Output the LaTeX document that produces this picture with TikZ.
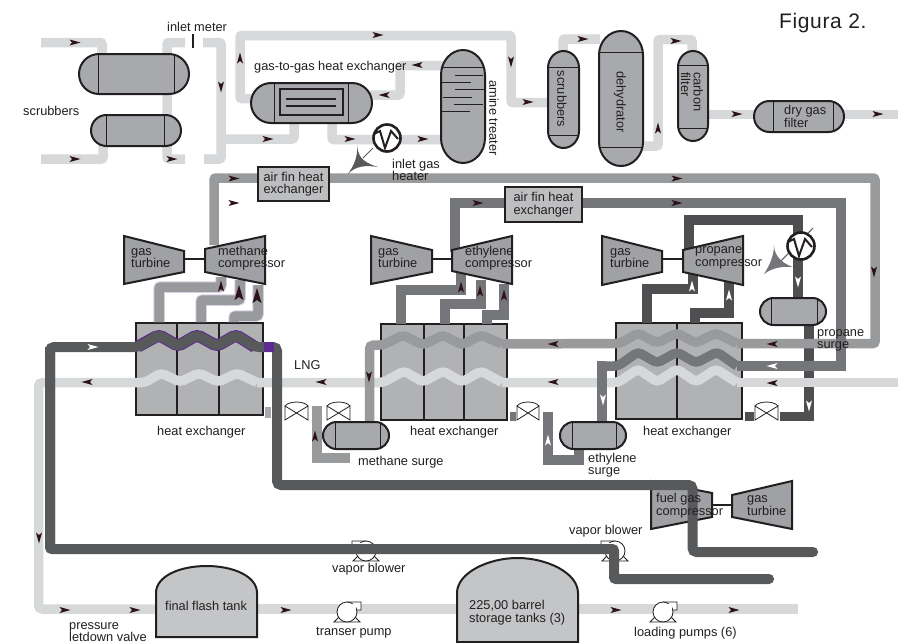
\documentclass[tikz,border=0pt]{standalone}
\usepackage{fontspec}
\setmainfont{Liberation Sans}
\definecolor{ink}{HTML}{231F20}
\definecolor{arrowink}{HTML}{2B1118}
\definecolor{plt}{HTML}{D7D8D9}
\definecolor{pmd}{HTML}{999A9C}
\definecolor{pet}{HTML}{757679}
\definecolor{ppr}{HTML}{4F4F51}
\definecolor{pdk}{HTML}{58595B}
\definecolor{halo}{HTML}{D8D0E4}
\definecolor{purp}{HTML}{5E2A91}
\definecolor{vesselgray}{HTML}{A7A9AC}
\definecolor{hxgray}{HTML}{B1B2B4}
\definecolor{fingray}{HTML}{BCBEC0}
\definecolor{tankgray}{HTML}{C4C5C7}
\definecolor{turbgray}{HTML}{9FA1A4}
\tikzset{
  pipeline/.style={line width=9.5pt,rounded corners=2pt,line cap=butt},
  lightpipe/.style={pipeline,draw=plt},
  midpipe/.style={pipeline,draw=pmd},
  ethpipe/.style={pipeline,draw=pet},
  proppipe/.style={pipeline,draw=ppr,rounded corners=0pt},
  darkpipe/.style={pipeline,draw=pdk,line width=10pt},
  wavy/.style={rounded corners=4pt},
  vessel/.style={draw=ink,line width=2pt,fill=vesselgray},
  divider/.style={draw=ink,line width=1pt},
  hxbox/.style={draw=ink,line width=2pt,fill=hxgray},
  finbox/.style={draw=ink,line width=2pt,fill=fingray,minimum width=71pt,inner sep=0pt,font=\fontsize{12.8}{12.5}\selectfont,align=left,text=ink},
  tank/.style={draw=ink,line width=2pt,fill=tankgray},
  machine/.style={draw=ink,line width=2pt,fill=turbgray},
  lbl/.style={inner sep=0pt,anchor=west,text=ink,font=\fontsize{12.8}{12.5}\selectfont,align=left},
  thin part/.style={draw=ink,line width=.8pt,fill=white},
}
\newcommand{\capH}[6]{% x0 y0 x1 y1 line1 line2
  \pgfmathsetmacro{\rr}{(#4-#2)/2-0.01}
  \draw[vessel,rounded corners=\rr pt] (#1,#2) rectangle (#3,#4);
  \draw[divider] (#5,#2) -- (#5,#4) (#6,#2) -- (#6,#4);
}
\newcommand{\capV}[5]{% x0 y0 x1 y1 capheight
  \pgfmathsetmacro{\xm}{(#1+#3)/2}
  \pgfmathsetmacro{\xa}{#1+(#3-#1)*.225}
  \pgfmathsetmacro{\xb}{#3-(#3-#1)*.225}
  \pgfmathsetmacro{\ya}{#2+#5}
  \pgfmathsetmacro{\yb}{#4-#5}
  \pgfmathsetmacro{\yc}{#2+#5*.45}
  \pgfmathsetmacro{\yd}{#4-#5*.45}
  \draw[vessel] (#1,\ya) .. controls (#1,\yc) and (\xa,#2) .. (\xm,#2)
     .. controls (\xb,#2) and (#3,\yc) .. (#3,\ya) -- (#3,\yb)
     .. controls (#3,\yd) and (\xb,#4) .. (\xm,#4)
     .. controls (\xa,#4) and (#1,\yd) .. (#1,\yb) -- cycle;
}
\newcommand{\flowarrow}[4][arrowink]{% colour x y angle
  \fill[#1,shift={(#2,#3)},rotate=-#4] (5.5,0) -- (-5.5,3) -- (-3,0) -- (-5.5,-3) -- cycle;
}
\newcommand{\bigarrow}[2]{% x y, pointing up
  \fill[arrowink,shift={(#1,#2)}] (0,-8) -- (4.5,7) -- (0,4) -- (-4.5,7) -- cycle;
}
\newcommand{\valve}[2]{% x0 x1
  \pgfmathsetmacro{\va}{#1+4}
  \pgfmathsetmacro{\vb}{#2-4}
  \draw[thin part] (#1,406) .. controls (\va,400.7) and (\vb,400.7) .. (#2,406);
  \draw[thin part] (#1,406) -- (#2,420) -- (#2,406) -- (#1,420) -- cycle;
}
\newcommand{\pump}[3]{% cx cy xscale
  \begin{scope}[shift={(#1,#2)},xscale=#3]
    \draw[thin part] (-13,10) -- (13,10) -- (6,3) -- (-6,3) -- cycle;
    \draw[thin part] (0,-10) -- (14,-10) -- (14,-2) -- (8,-2) -- (0,0) -- cycle;
    \draw[thin part] (0,0) circle[radius=10];
    \fill[white] (0,-8) rectangle (9,-1);
  \end{scope}
}
\newcommand{\heater}[2]{% cx cy
  \begin{scope}[shift={(#1,#2)}]
    \draw[draw=ink,line width=2.6pt,fill=white] (0,0) circle[radius=13.5];
    \draw[draw=ink,line width=2pt,line join=miter] (-13,-4) -- (-7,-7) -- (-2,10) -- (4,-7) -- (11,1);
  \end{scope}
}
\begin{document}
\begin{tikzpicture}[x=1pt,y=-1pt]
\useasboundingbox (0,0) rectangle (898,643);
\fill[white] (0,0) rectangle (898,643);

% ---- heat exchanger boxes
\draw[hxbox] (136,323) rectangle (263,415);
\draw[hxbox] (177,323) -- (177,415) (219,323) -- (219,415);
\draw[hxbox] (381,324) rectangle (507,420);
\draw[hxbox] (424,323) -- (424,420) (464,323) -- (464,420);
\draw[hxbox] (616,323) rectangle (742,419);
\draw[hxbox] (677,323) -- (677,419);

% ---- fuel gas machines (under the dark pipe)
\draw[machine] (651,481) -- (712,493) -- (712,517) -- (651,529) -- cycle;
\draw[machine] (732,495) -- (792,481) -- (792,529) -- (732,517) -- cycle;
\draw[draw=ink,line width=2pt] (712,505) -- (732,505);

% ---- blowers (under the dark pipe)
\pump{366}{551}{-1}
\pump{615}{551}{-1}

% ---- propane refrigerant loop, passes under the others
\draw[proppipe] (809,325) -- (809,416.5) -- (780,416.5);
\draw[proppipe] (798,298) -- (798,220) -- (689,220) -- (689,252);
\draw[proppipe] (647,323) -- (647,289) -- (693,289) -- (693,272);
\draw[proppipe] (695,323) -- (695,313) -- (729,313) -- (729,282);
\fill[ppr] (745,412) rectangle (754,421);

% ---- light gas lines
\draw[lightpipe] (41,42.5) -- (102,42.5) -- (102,56);
\draw[lightpipe] (41,159) -- (103,159) -- (103,145);
\draw[lightpipe] (185,42.5) -- (167,42.5) -- (167,159) -- (185,159);
\draw[lightpipe] (203,42.5) -- (221,42.5) -- (221,159) -- (204,159);
\draw[lightpipe] (221,139) -- (294,139) -- (294,122);
\draw[lightpipe] (252,98.5) -- (240,98.5) -- (240,35.5) -- (511,35.5) -- (511,102.5) -- (549,102.5);
\draw[lightpipe] (370,95) -- (400,95) -- (400,65.5) -- (443,65.5);
\draw[lightpipe] (332,122) -- (332,139.5) -- (443,139.5);
\draw[lightpipe] (563,52) -- (563,39) -- (600,39);
\draw[lightpipe] (643,146) -- (658,146) -- (658,39.5) -- (692,39.5) -- (692,52);
\draw[lightpipe] (708,114.5) -- (755,114.5);
\draw[lightpipe] (844,114.5) -- (898,114.5);
\draw[lightpipe] (898,382.5) -- (737,382.5);
\draw[lightpipe,wavy] (737,382.5) -- (716,369) -- (696,382) -- (677,369) -- (657,382) -- (638,369) -- (618,382.5) -- (502,382.5);
\draw[lightpipe,wavy] (502,382.5) -- (481,371) -- (462,382) -- (443,371) -- (423,382) -- (404,371) -- (383,382.5) -- (257,382.5);
\draw[lightpipe,wavy] (257,382.5) -- (237,373) -- (218,382) -- (199,373) -- (180,382) -- (161,373) -- (145,382.5) -- (38.5,382.5) -- (38.5,609) -- (160,609);
\draw[lightpipe] (255,609) -- (798,609);

% ---- methane compressor suction lines with halo
\draw[pipeline,draw=halo,line width=11.5pt] (159,322) -- (159,287) -- (221,287) -- (221,277);
\draw[pipeline,draw=halo,line width=11.5pt] (201,322) -- (201,300) -- (240,300) -- (240,280);
\draw[pipeline,draw=halo,line width=11.5pt] (234,322) -- (234,316) -- (258,316) -- (258,285);
\draw[midpipe] (159,322) -- (159,287) -- (221,287) -- (221,277);
\draw[midpipe] (201,322) -- (201,300) -- (240,300) -- (240,280);
\draw[midpipe] (234,322) -- (234,316) -- (258,316) -- (258,285);

% ---- methane refrigerant
\draw[midpipe] (214,245) -- (214,178) -- (875,178) -- (875,343.5) -- (737,343.5);
\draw[midpipe,wavy] (737,343.5) -- (716,333) -- (696,343) -- (677,333) -- (657,343) -- (638,333) -- (620,343.5) -- (502,344);
\draw[midpipe,wavy] (502,344) -- (481,335) -- (462,345) -- (443,335) -- (423,345) -- (403,335) -- (383,345) -- (369.5,345) -- (369.5,422);
\draw[midpipe,line width=10pt,rounded corners=0pt] (317,406) -- (317,458) -- (350,458);
\fill[vesselgray] (265,407) rectangle (271,418);

% ---- ethylene refrigerant
\draw[ethpipe,rounded corners=0pt] (401,324) -- (401,290) -- (461,290) -- (461,272);
\draw[ethpipe,rounded corners=0pt] (445,324) -- (445,304) -- (481,304) -- (481,280);
\draw[ethpipe,rounded corners=0pt] (487,324) -- (487,315) -- (504,315) -- (504,284);
\draw[ethpipe,rounded corners=0pt] (455,252) -- (455,203) -- (841,203) -- (841,366) -- (737,366);
\draw[ethpipe,wavy] (737,366) -- (717,352) -- (696,363) -- (677,352) -- (657,363) -- (638,352) -- (618,366) -- (602,366);
\draw[ethpipe,rounded corners=0pt] (606,366) -- (602,366) -- (602,422);
\draw[ethpipe,rounded corners=0pt] (548,412) -- (548,460) -- (579,460) -- (579,449);
\fill[pet] (510,412) rectangle (516,421);

% ---- dark main feed loop
\draw[draw=purp,line width=12pt,wavy] (138,346.5) -- (159,335) -- (178,346) -- (197,335) -- (217,346) -- (236,335) -- (255,347);
\draw[darkpipe,wavy] (50,549) -- (50,347) -- (138,347) -- (159,335) -- (178,346) -- (197,335) -- (217,346) -- (236,335) -- (255,347) -- (277,347) -- (277,485) -- (692.5,485) -- (692.5,552) -- (813,552);
\fill[purp] (264,342) rectangle (274,352);
\draw[pdk,line width=10pt,line cap=round] (813,552) -- (813.1,552);
\draw[darkpipe] (50,347) -- (50,549) -- (614,549) -- (614,579) -- (769,579);
\draw[pdk,line width=10pt,line cap=round] (769,579) -- (769.1,579);

% ---- scrubbers and gas treatment vessels
\capH{79}{54}{189}{94}{98}{174}
\capH{91}{115}{181}{146}{106}{164}
\capH{251}{83}{372}{123}{274}{348}
\draw[draw=ink,line width=1.4pt] (280,89) rectangle (343,115);
\draw[draw=ink,line width=1.4pt] (286,99) -- (336,99) (286,106) -- (336,106);
\capV{441}{50}{485}{163}{25}
\draw[divider] (441,67) -- (485,67) (455,75) -- (483,75) (442,82) -- (471,82) (455,89) -- (484,89) (443,97) -- (472,97) (454,104) -- (483,104) (442,111) -- (470,111);
\capV{548}{51}{579}{148}{17}
\draw[divider] (548,67) -- (579,67) (548,135) -- (579,135);
\capV{599}{31}{643}{166}{24}
\draw[divider] (599,52) -- (643,52) (599,147) -- (643,147);
\capV{678}{51}{708}{141}{16}
\draw[divider] (678,65) -- (708,65) (678,128) -- (708,128);
\capH{754}{101}{844}{132}{773}{833}

% ---- surge drums
\capH{323}{422}{389}{449}{335}{380}
\capH{560}{422}{626}{449}{572}{616}
\capH{760}{298}{826}{325}{771}{817}

% ---- valves
\valve{285}{308}
\valve{327}{350}
\valve{517}{539}
\valve{755}{778}

% ---- inlet meter
\fill[ink] (191.7,34) rectangle (194.3,48);

% ---- heater markers
\draw[draw=pdk,line width=1pt] (373,148) -- (363,158);
\fill[pdk] (357,145) .. controls (358,155) and (361,162) .. (378,167) .. controls (366,165) and (355,166) .. (348,174) .. controls (354,165) and (358,157) .. (357,145) -- cycle;
\heater{387}{138}
\draw[draw=pdk,line width=1pt] (813,228) -- (780,262);
\fill[pet] (774,245) .. controls (774,252) and (778,262) .. (793,267) .. controls (782,266) and (772,268) .. (764,274) .. controls (770,265) and (774,255) .. (774,245) -- cycle;
\heater{801}{246}

% ---- machines
\draw[machine] (124,236) -- (184,251) -- (184,272) -- (124,284) -- cycle;
\draw[machine] (205,249) -- (265,236) -- (265,284) -- (205,272) -- cycle;
\draw[draw=ink,line width=2pt] (184,259) -- (205,259);
\draw[machine] (371,236) -- (432,250) -- (432,272) -- (371,284) -- cycle;
\draw[machine] (452,250) -- (512,236) -- (512,284) -- (452,271) -- cycle;
\draw[draw=ink,line width=2pt] (432,259) -- (452,259);
\draw[machine] (602,236) -- (662,251) -- (662,272) -- (602,285) -- cycle;
\draw[machine] (683,250) -- (743,236) -- (743,285) -- (683,272) -- cycle;
\draw[draw=ink,line width=2pt] (662,259) -- (683,259);

% ---- pumps on the product line, tanks
\pump{347}{612}{1}
\pump{663}{612}{1}
\draw[tank] (156,593) .. controls (156,576) and (180,566) .. (206.5,566) .. controls (233,566) and (257,576) .. (257,593) -- (257,637) -- (156,637) -- cycle;
\draw[tank] (457,593) .. controls (457,573) and (488,558) .. (517.5,558) .. controls (547,558) and (578,573) .. (578,593) -- (578,642) -- (457,642) -- cycle;

% ---- air fin boxes
\node[finbox,minimum height=34pt] (fin1) at (293.5,184) {air fin heat\\exchanger};
\node[finbox,minimum height=35pt,minimum width=77pt] (fin2) at (543.5,204.5) {air fin heat\\exchanger};

% ---- flow arrows
\flowarrow{75}{42.5}{0}
\flowarrow{75}{159}{0}
\flowarrow{221}{87}{90}
\flowarrow{268}{139}{0}
\flowarrow{172}{159}{0}
\flowarrow{240}{58}{-90}
\flowarrow{378}{35}{0}
\flowarrow{417}{65}{180}
\flowarrow{384}{95}{180}
\flowarrow{350}{139}{0}
\flowarrow{423}{139}{0}
\flowarrow{511}{62}{90}
\flowarrow{528}{102}{0}
\flowarrow{583}{39}{0}
\flowarrow{658}{128}{-90}
\flowarrow{676}{41}{0}
\flowarrow{737}{114}{0}
\flowarrow{878}{114}{0}
\flowarrow{234}{178.5}{0}
\flowarrow{234}{203}{0}
\flowarrow{677}{178.5}{0}
\flowarrow{874}{272}{90}
\flowarrow{478}{203}{0}
\flowarrow{677}{203}{0}
\flowarrow{553}{344}{180}
\flowarrow{772}{344}{180}
\flowarrow{553}{382}{180}
\flowarrow{772}{383}{180}
\flowarrow{87}{382}{180}
\flowarrow{321}{382}{180}
\flowarrow{369}{377}{90}
\flowarrow{315}{436}{-90}
\flowarrow{221}{286}{-90}
\bigarrow{239}{293}
\bigarrow{257}{296}
\flowarrow{461}{287}{-90}
\flowarrow{480}{291}{-90}
\flowarrow{504}{295}{-90}
\flowarrow{39}{538}{90}
\flowarrow{65}{610}{0}
\flowarrow{135}{610}{0}
\flowarrow{286}{610}{0}
\flowarrow{616}{610}{0}
\flowarrow{734}{610}{0}
\flowarrow[white]{772}{366}{180}
\flowarrow[white]{798}{282}{90}
\flowarrow[white]{603}{400}{90}
\flowarrow[white]{809}{406}{90}
\flowarrow[white]{692}{286}{-90}
\flowarrow[white]{729}{295}{-90}
\flowarrow[white]{548}{440}{-90}
\flowarrow[white]{93}{347}{0}

% ---- labels
\node[lbl] (title) at (779,23) {\fontsize{21}{24}\selectfont\addfontfeature{LetterSpace=3}Figura 2.};
\node[lbl] (tscrub) at (23,111) {scrubbers};
\node[lbl] (tmeter) at (167,27) {inlet meter};
\node[lbl] (tg2g) at (254,67) {gas-to-gas heat exchanger};
\node[lbl] (theater) at (392,170) {inlet gas\\heater};
\node[lbl,rotate=-90,anchor=center] (tamine) at (494,118) {amine treater};
\node[lbl,rotate=-90,anchor=center] (tvscrub) at (562,99) {scrubbers};
\node[lbl,rotate=-90,anchor=center] (tdehy) at (620,102) {dehydrator};
\node[lbl,rotate=-90,anchor=north west] (tcarbon) at (703,72) {carbon\\filter};
\node[lbl] (tdry) at (784,116.5) {dry gas\\filter};
\node[lbl] (tgt1) at (131,258) {gas\\turbine};
\node[lbl] (tmc) at (218,258) {methane\\compressor};
\node[lbl] (tgt2) at (378,258) {gas\\turbine};
\node[lbl] (tec) at (465,258) {ethylene\\compressor};
\node[lbl] (tgt3) at (610,258) {gas\\turbine};
\node[lbl] (tpc) at (695,258) {propane\\compressor};
\node[lbl] (tlng) at (294,365) {LNG};
\node[lbl] (thx1) at (157,432) {heat exchanger};
\node[lbl] (thx2) at (410,432) {heat exchanger};
\node[lbl] (thx3) at (643,432) {heat exchanger};
\node[lbl] (tms) at (358,462) {methane surge};
\node[lbl] (tes) at (588,465) {ethylene\\surge};
\node[lbl] (tps) at (817,340.5) {propane\\surge};
\node[lbl] (tfc) at (656,505.5) {fuel gas\\compressor};
\node[lbl] (tgt4) at (747,505.5) {gas\\turbine};
\node[lbl] (tvb1) at (332,569) {vapor blower};
\node[lbl] (tvb2) at (569,531) {vapor blower};
\node[lbl] (ttp) at (316,633) {transer pump};
\node[lbl] (tlp) at (634,633) {loading pumps (6)};
\node[lbl] (tpv) at (69,632) {pressure\\letdown valve};
\node[lbl] (tfft) at (165,606) {final flash tank};
\node[lbl] (tstore) at (469,612.5) {225,00 barrel\\storage tanks (3)};
\end{tikzpicture}
\end{document}
